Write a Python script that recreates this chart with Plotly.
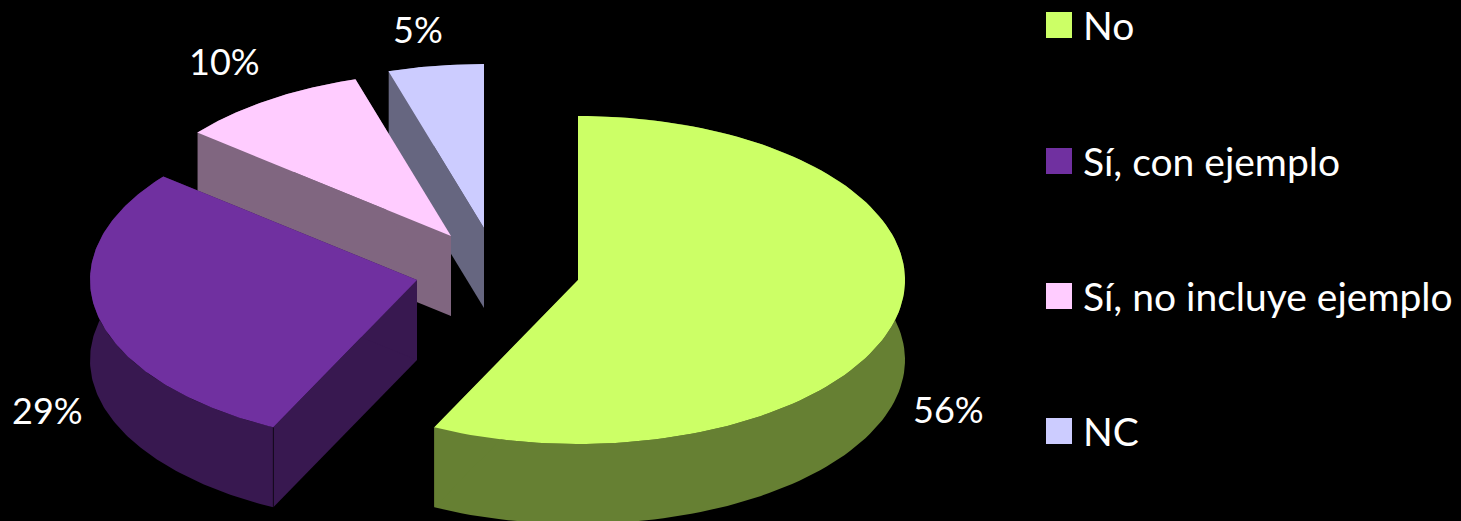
import numpy as np
import plotly.graph_objects as go

# Survey results
categories = ["No", "Sí, con ejemplo", "Sí, no incluye ejemplo", "NC"]
values = [56, 29, 10, 5]
top_colors = ["#CCFF66", "#7030A0", "#FFCCFF", "#CCCCFF"]
side_colors = ["#668033", "#381850", "#806680", "#666680"]

# Projection of the tilted disc, in pixels of the canvas
RX, RY, DEPTH = 327, 164, 80
VIEW_SCALE, VIEW_SHIFT = 1.056, -0.03
apex_x = [578, 417, 451, 484]
apex_y = [280, 280, 236, 228]
label_dx = [52, -50, -44, -18]
label_dy = [92, 95, -39, -37]

FONT = "Lato"
LABEL_SIZE = 36
LEGEND_SIZE = 39


def project_angle(deg):
    """Angle on the disc as seen under the perspective of the 3D view."""
    half = np.radians(np.asarray(deg, dtype=float)) / 2
    return np.degrees(2 * np.arctan2(np.sin(half),
                                     VIEW_SCALE * np.cos(half) + VIEW_SHIFT * np.sin(half)))


def rim(cx, cy, a0, a1):
    """Points on the ellipse, with angles measured clockwise from the top."""
    t = np.radians(np.linspace(a0, a1, 121))
    return cx + RX * np.sin(t), cy - RY * np.cos(t)


def face(xs, ys, color):
    fig.add_trace(go.Scatter(x=xs, y=ys, mode="lines", fill="toself",
                             fillcolor=color, line=dict(width=0),
                             hoverinfo="skip", showlegend=False))


fig = go.Figure()
edges = project_angle(np.concatenate([[0], np.cumsum(values)]) * 3.6)

# Painted back to front so nearer slices cover the further ones
for i in reversed(range(len(values))):
    cx, cy = apex_x[i], apex_y[i]
    rx, ry = rim(cx, cy, edges[i], edges[i + 1])

    # Rim wall
    face([*rx, *rx[::-1]], [*ry, *(ry[::-1] + DEPTH)], side_colors[i])
    # The two cut faces
    for ex, ey in ((rx[0], ry[0]), (rx[-1], ry[-1])):
        face([cx, ex, ex, cx], [cy, ey, ey + DEPTH, cy + DEPTH], side_colors[i])
    # Corner where the rim meets the leading cut face
    fig.add_trace(go.Scatter(x=[rx[0], rx[0]], y=[ry[0], ry[0] + DEPTH], mode="lines",
                             line=dict(width=1, color="rgba(0,0,0,0.6)"),
                             hoverinfo="skip", showlegend=False))
    # Top face
    face([cx, *rx], [cy, *ry], top_colors[i])

# Percentage labels just outside each slice
for i, v in enumerate(values):
    mid = np.radians((edges[i] + edges[i + 1]) / 2)
    lx = apex_x[i] + RX * np.sin(mid) + label_dx[i]
    ly = apex_y[i] - RY * np.cos(mid) + label_dy[i]
    fig.add_annotation(x=lx, y=ly, text=f"{v}%", showarrow=False,
                       font=dict(family=FONT, size=LABEL_SIZE, color="white"))

# Legend column
legend_x = 1059
legend_y = [25, 161, 296, 431]
fig.add_trace(go.Scatter(x=[legend_x] * len(categories), y=legend_y,
                         mode="markers",
                         marker=dict(symbol="square", size=26, color=top_colors,
                                     line=dict(width=0)),
                         hoverinfo="skip", showlegend=False))
for name, y in zip(categories, legend_y):
    fig.add_annotation(x=1081, y=y, text=name, showarrow=False, xanchor="left",
                       font=dict(family=FONT, size=LEGEND_SIZE, color="white"))

fig.update_layout(
    width=1461, height=521, margin=dict(l=0, r=0, t=0, b=0),
    paper_bgcolor="black", plot_bgcolor="black", showlegend=False,
    xaxis=dict(range=[0, 1461], visible=False, fixedrange=True),
    yaxis=dict(range=[521, 0], visible=False, fixedrange=True),
)
fig.write_html("out.html", config={"displayModeBar": False})
